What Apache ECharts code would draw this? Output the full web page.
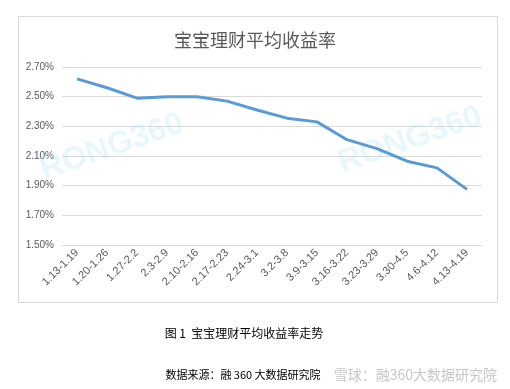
<!DOCTYPE html>
<html><head><meta charset="utf-8">
<script src="https://cdn.jsdelivr.net/npm/echarts@6/dist/echarts.min.js"></script>
<style>html,body{margin:0;padding:0;background:#fff}#c{width:510px;height:389px}</style>
</head><body><div id="c"></div>
<script>
var categories = ['1.13-1.19','1.20-1.26','1.27-2.2','2.3-2.9','2.10-2.16','2.17-2.23','2.24-3.1','3.2-3.8','3.9-3.15','3.16-3.22','3.23-3.29','3.30-4.5','4.6-4.12','4.13-4.19'];
var yields = [2.62, 2.56, 2.49, 2.50, 2.50, 2.47, 2.41, 2.355, 2.33, 2.21, 2.15, 2.065, 2.02, 1.875];
var chartTitle = '宝宝理财平均收益率';
var caption = '图 1  宝宝理财平均收益率走势';
var source = '数据来源：融 360 大数据研究院';
var stamp = '雪球：融360大数据研究院';
var font = '"Noto Sans CJK SC","Liberation Sans",sans-serif';
var chart = echarts.init(document.getElementById('c'));
chart.setOption({
  animation: false,
  title: {text: chartTitle, left: 'center', top: 26, textStyle: {color: '#595959', fontSize: 18, fontWeight: 'normal', fontFamily: font}},
  grid: {left: 62, right: 28, top: 67, bottom: 144},
  xAxis: {type: 'category', data: categories, boundaryGap: true,
    axisLine: {show: false}, axisTick: {show: false},
    axisLabel: {rotate: 45, interval: 0, color: '#595959', fontSize: 11, fontFamily: '"Liberation Sans",sans-serif', margin: 6}},
  yAxis: {type: 'value', min: 1.5, max: 2.7, interval: 0.2,
    axisLine: {show: false}, axisTick: {show: false},
    splitLine: {lineStyle: {color: '#d9d9d9', width: 1}},
    axisLabel: {formatter: function(v){return v.toFixed(2) + '%';}, color: '#595959', fontSize: 10, fontFamily: '"Liberation Sans",sans-serif', margin: 8}},
  series: [{type: 'line', data: yields, symbol: 'none', lineStyle: {color: '#5B9BD5', width: 3}, z: 3}],
  graphic: [
    {type: 'rect', shape: {x: 18.5, y: 16.5, width: 479, height: 286}, style: {fill: 'none', stroke: '#d9d9d9', lineWidth: 1}, z: -1},
    {type: 'text', x: 112, y: 147, rotation: 0.33, style: {text: 'RONG360', font: 'bold 32px "Liberation Sans",sans-serif', fill: 'rgba(170,225,245,0.28)', textAlign: 'center', textVerticalAlign: 'middle'}, z: 1},
    {type: 'text', x: 410, y: 140, rotation: 0.33, style: {text: 'RONG360', font: 'bold 32px "Liberation Sans",sans-serif', fill: 'rgba(170,225,245,0.28)', textAlign: 'center', textVerticalAlign: 'middle'}, z: 1},
    {type: 'text', x: 244, y: 333, style: {text: caption, font: '12px ' + font, fill: '#000', textAlign: 'center', textVerticalAlign: 'middle'}},
    {type: 'text', x: 243, y: 375, style: {text: source, font: '11px ' + font, fill: '#000', textAlign: 'center', textVerticalAlign: 'middle'}},
    {type: 'text', x: 497, y: 375, style: {text: stamp, font: '14px ' + font, fill: 'rgba(185,185,185,0.8)', textAlign: 'right', textVerticalAlign: 'middle'}}
  ]
});
</script></body></html>
